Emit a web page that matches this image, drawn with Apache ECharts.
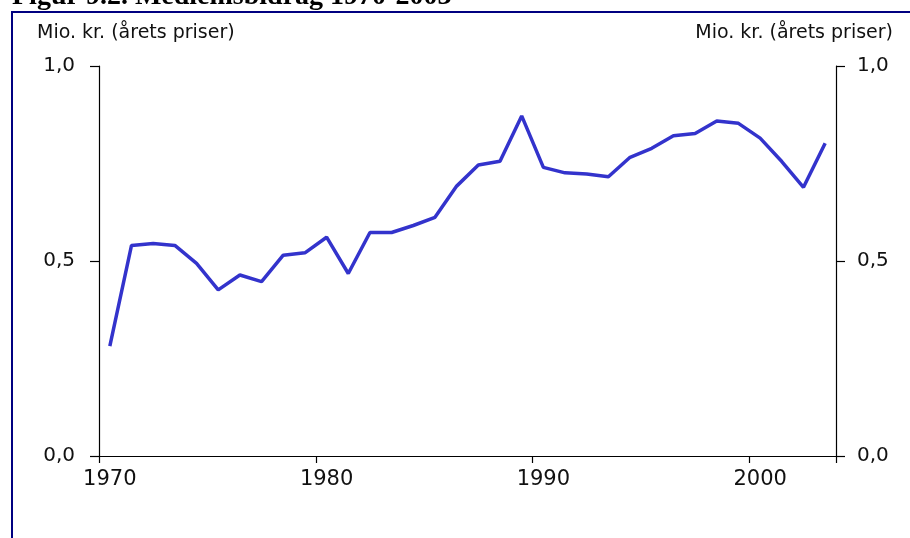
<!DOCTYPE html>
<html>
<head>
<meta charset="utf-8">
<title>Medlemsbidrag 1970-2003</title>
<script src="https://cdn.jsdelivr.net/npm/echarts@6/dist/echarts.min.js"></script>
<style>
  html, body { margin: 0; padding: 0; background: #fff; }
  #chart { width: 910px; height: 538px; }
</style>
</head>
<body>
<div id="chart"></div>
<script>
// data
const years = [
  '1970', '1971', '1972', '1973', '1974', '1975', '1976', '1977', '1978', '1979',
  '1980', '1981', '1982', '1983', '1984', '1985', '1986', '1987', '1988', '1989',
  '1990', '1991', '1992', '1993', '1994', '1995', '1996', '1997', '1998', '1999',
  '2000', '2001', '2002', '2003'
]
const medlemsbidrag = [
  0.282, 0.540, 0.545, 0.540, 0.494, 0.426, 0.464, 0.447, 0.515, 0.521,
  0.561, 0.468, 0.573, 0.573, 0.591, 0.612, 0.692, 0.746, 0.756, 0.872,
  0.740, 0.726, 0.723, 0.716, 0.766, 0.789, 0.821, 0.827, 0.859, 0.853,
  0.815, 0.755, 0.689, 0.802
]
const yTickLabels = ['0,0', '0,5', '1,0']
const titleText = 'Figur 9.2. Medlemsbidrag 1970-2003'
const unitText = 'Mio. kr. (årets priser)'

const chart = echarts.init(document.getElementById('chart'))

const labelFont = 'DejaVu Sans'
const yLabel = (v) => yTickLabels[Math.round(v / 0.5)] ?? ''
const everyTenth = (idx) => idx % 10 === 0

function yAxisCfg(position, margin) {
  return {
    type: 'value',
    position: position,
    min: 0,
    max: 1,
    interval: 0.5,
    splitLine: { show: false },
    axisLine: { show: true, lineStyle: { color: '#000', width: 1.2 } },
    axisTick: { show: true, inside: false, length: 9, lineStyle: { color: '#000', width: 1.2 } },
    axisLabel: {
      formatter: yLabel,
      margin: margin,
      color: '#111',
      fontFamily: labelFont,
      fontSize: 20
    }
  }
}

const option = {
  animation: false,
  grid: { left: 99, right: 74, top: 66, bottom: 82 },
  xAxis: {
    type: 'category',
    data: years,
    boundaryGap: true,
    axisLine: { lineStyle: { color: '#000', width: 1.2 } },
    axisTick: { show: true, interval: everyTenth, length: 7, lineStyle: { color: '#000', width: 1.2 } },
    axisLabel: {
      interval: everyTenth,
      margin: 13,
      color: '#111',
      fontFamily: labelFont,
      fontSize: 21
    },
    splitLine: { show: false }
  },
  yAxis: [yAxisCfg('left', 24), yAxisCfg('right', 21)],
  series: [{
    type: 'line',
    data: medlemsbidrag,
    symbol: 'none',
    lineStyle: { color: '#3333CC', width: 3.5 },
    z: 3
  }],
  graphic: [
    {
      type: 'rect',
      shape: { x: 12, y: 12, width: 940, height: 560 },
      style: { fill: 'none', stroke: '#000080', lineWidth: 2 },
      silent: true
    },
    {
      type: 'text',
      style: {
        x: 12, y: 11,
        text: titleText,
        font: 'bold 28px "Liberation Serif", serif',
        fill: '#000',
        align: 'left',
        verticalAlign: 'bottom'
      }
    },
    {
      type: 'text',
      style: {
        x: 37, y: 33,
        text: unitText,
        font: '19px "DejaVu Sans", sans-serif',
        fill: '#111',
        align: 'left',
        verticalAlign: 'middle'
      }
    },
    {
      type: 'text',
      style: {
        x: 893, y: 33,
        text: unitText,
        font: '19px "DejaVu Sans", sans-serif',
        fill: '#111',
        align: 'right',
        verticalAlign: 'middle'
      }
    }
  ]
}

chart.setOption(option)
</script>
</body>
</html>
